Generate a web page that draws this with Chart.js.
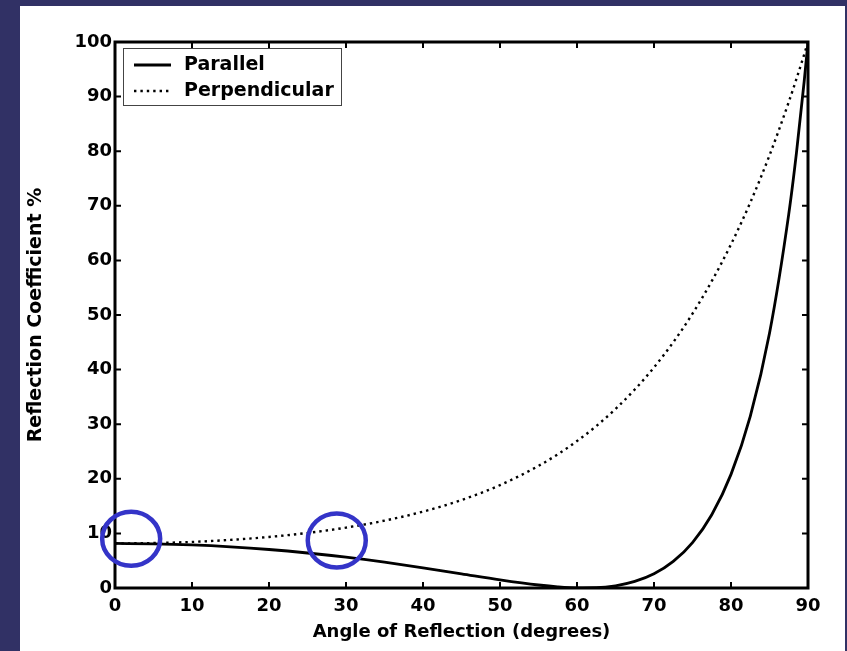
<!DOCTYPE html>
<html>
<head>
<meta charset="utf-8">
<title>Reflection Coefficient</title>
<script src="https://cdn.jsdelivr.net/npm/chart.js@4/dist/chart.umd.min.js"></script>
<style>
  html, body { margin: 0; padding: 0; }
  body { background: #313165; width: 847px; height: 651px; overflow: hidden; position: relative; }
  .panel { position: absolute; left: 20px; top: 6px; width: 825px; height: 645px; background: #fff; }
</style>
</head>
<body>
<div class="panel"><canvas id="reflChart"></canvas></div>
<script>
// angle of reflection (degrees)
const angles = [0, 5, 10, 15, 20, 25, 30, 35, 40, 45, 50, 55, 57.5, 60, 62.5, 65, 67.5,
  70, 72.5, 75, 77.5, 80, 82.5, 85, 87.5, 88.5, 89.5, 90];
// reflection coefficient % for each polarisation
const parallel = [8.16, 8.09, 7.89, 7.54, 7.05, 6.41, 5.64, 4.73, 3.70, 2.60, 1.50, 0.55, 0.20,
  0.02, 0.05, 0.40, 1.20, 2.61, 4.88, 8.33, 13.42, 20.81, 31.43, 46.65, 68.48, 79.70, 92.72, 100];
const perpendicular = [8.16, 8.23, 8.44, 8.81, 9.35, 10.08, 11.06, 12.34, 13.99, 16.11, 18.84,
  22.36, 24.49, 26.91, 29.66, 32.79, 36.35, 40.40, 45.01, 50.24, 56.19, 62.94, 70.58, 79.23,
  89.00, 93.24, 97.70, 100];
const seriesNames = ["Parallel", "Perpendicular"];
const xTicks = [0, 10, 20, 30, 40, 50, 60, 70, 80, 90];
const yTicks = [0, 10, 20, 30, 40, 50, 60, 70, 80, 90, 100];
// circled spots on the curves
const markAngle = [2.1, 28.8];
const markValue = [9.0, 8.7];

const FONT = "'DejaVu Sans', Arial, Helvetica, sans-serif";

const toPoints = ys => angles.map((a, i) => ({ x: a, y: ys[i] }));

// box round the plot with inward ticks on all four sides
const boxFrame = {
  id: 'boxFrame',
  afterDatasetsDraw(chart) {
    const { ctx, chartArea: a, scales: { x, y } } = chart;
    const len = 6;
    ctx.save();
    ctx.strokeStyle = '#000';
    ctx.lineWidth = 2;
    ctx.beginPath();
    xTicks.forEach(v => {
      const px = x.getPixelForValue(v);
      ctx.moveTo(px, a.bottom); ctx.lineTo(px, a.bottom - len);
      ctx.moveTo(px, a.top); ctx.lineTo(px, a.top + len);
    });
    yTicks.forEach(v => {
      const py = y.getPixelForValue(v);
      ctx.moveTo(a.left, py); ctx.lineTo(a.left + len, py);
      ctx.moveTo(a.right, py); ctx.lineTo(a.right - len, py);
    });
    ctx.stroke();
    ctx.lineWidth = 3;
    ctx.strokeRect(a.left, a.top, a.right - a.left, a.bottom - a.top);
    ctx.restore();
  }
};

// legend box in the upper left corner
const cornerLegend = {
  id: 'cornerLegend',
  afterDatasetsDraw(chart) {
    const { ctx, chartArea: a } = chart;
    const bx = a.left + 8, by = a.top + 6, bw = 218, bh = 57;
    ctx.save();
    ctx.fillStyle = '#fff';
    ctx.fillRect(bx, by, bw, bh);
    ctx.strokeStyle = '#444';
    ctx.lineWidth = 1;
    ctx.strokeRect(bx + 0.5, by + 0.5, bw, bh);
    chart.data.datasets.forEach((ds, i) => {
      const cy = by + 17 + i * 26;
      ctx.beginPath();
      ctx.strokeStyle = ds.borderColor;
      ctx.lineWidth = ds.borderWidth;
      ctx.setLineDash(ds.borderDash || []);
      ctx.moveTo(bx + 11, cy);
      ctx.lineTo(bx + 48, cy);
      ctx.stroke();
      ctx.setLineDash([]);
      ctx.fillStyle = '#000';
      ctx.font = "bold 19px " + FONT;
      ctx.textBaseline = 'middle';
      ctx.fillText(ds.label, bx + 61, cy);
    });
    ctx.restore();
  }
};

// blue rings drawn over the curves
const rings = {
  id: 'rings',
  afterDraw(chart) {
    const { ctx, scales: { x, y } } = chart;
    ctx.save();
    ctx.strokeStyle = '#3434c8';
    ctx.lineWidth = 4.5;
    markAngle.forEach((m, i) => {
      ctx.beginPath();
      ctx.ellipse(x.getPixelForValue(m), y.getPixelForValue(markValue[i]), 29, 27, 0, 0, Math.PI * 2);
      ctx.stroke();
    });
    ctx.restore();
  }
};

new Chart(document.getElementById('reflChart'), {
  type: 'line',
  data: {
    datasets: [{
      label: seriesNames[0],
      data: toPoints(parallel),
      borderColor: '#000',
      borderWidth: 2.8,
      pointRadius: 0,
      cubicInterpolationMode: 'monotone'
    }, {
      label: seriesNames[1],
      data: toPoints(perpendicular),
      borderColor: '#000',
      borderWidth: 2.4,
      borderDash: [2.4, 4],
      pointRadius: 0,
      cubicInterpolationMode: 'monotone'
    }]
  },
  options: {
    responsive: true,
    maintainAspectRatio: false,
    animation: false,
    layout: { padding: { top: 36, right: 37, left: 0, bottom: 0 } },
    plugins: {
      legend: { display: false },
      tooltip: { enabled: false }
    },
    scales: {
      x: {
        type: 'linear',
        min: 0, max: 90,
        afterFit: s => { s.height = 63; },
        afterBuildTicks: s => { s.ticks = xTicks.map(v => ({ value: v })); },
        grid: { display: false, drawTicks: false },
        border: { display: false },
        ticks: { color: '#000', padding: 8, font: { family: FONT, size: 18, weight: 'bold' } },
        title: {
          display: true,
          text: 'Angle of Reflection (degrees)',
          color: '#000',
          padding: { top: 0, bottom: 8 },
          font: { family: FONT, size: 18, weight: 'bold' }
        }
      },
      y: {
        type: 'linear',
        min: 0, max: 100,
        afterFit: s => { s.width = 95; },
        afterBuildTicks: s => { s.ticks = yTicks.map(v => ({ value: v })); },
        grid: { display: false, drawTicks: false },
        border: { display: false },
        ticks: { color: '#000', padding: 3, font: { family: FONT, size: 18, weight: 'bold' } },
        title: {
          display: true,
          text: 'Reflection Coefficient %',
          color: '#000',
          padding: { top: 5, bottom: 0 },
          font: { family: FONT, size: 19, weight: 'bold' }
        }
      }
    }
  },
  plugins: [boxFrame, cornerLegend, rings]
});
</script>
</body>
</html>
